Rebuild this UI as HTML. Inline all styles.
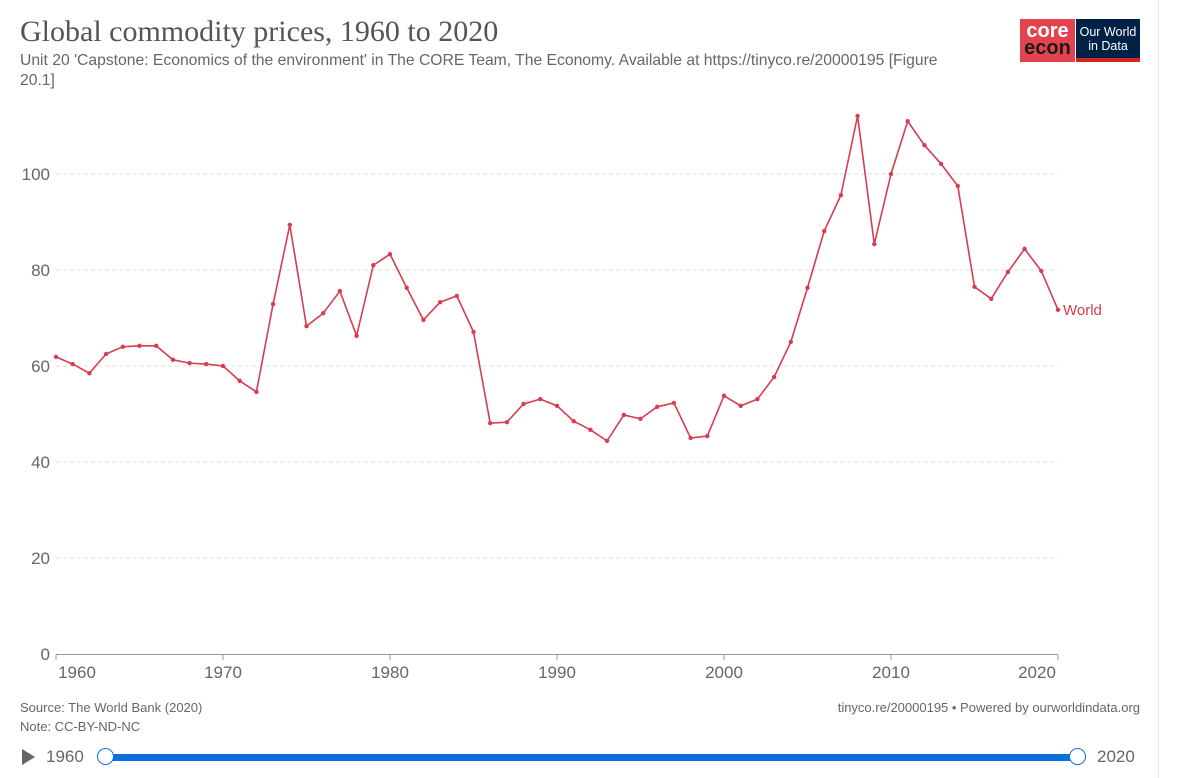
<!DOCTYPE html>
<html><head><meta charset="utf-8"><style>
body{margin:0;background:#fff;width:1183px;height:778px;overflow:hidden;font-family:"Liberation Sans",sans-serif;position:relative}
.title{position:absolute;left:20px;top:15px;font-family:"Liberation Serif",serif;font-size:30px;color:#555}
.sub{position:absolute;left:20px;top:51px;white-space:nowrap;font-size:15.7px;color:#666;line-height:20px}
.logo{position:absolute;top:19px;display:flex}
.foot{position:absolute;font-size:13px;color:#666}
.border{position:absolute;left:1158px;top:0;width:1px;height:778px;background:#e6e6e6}
</style></head><body>
<div class="title">Global commodity prices, 1960 to 2020</div>
<div class="sub">Unit 20 'Capstone: Economics of the environment' in The CORE Team, The Economy. Available at https://tinyco.re/20000195 [Figure<br>20.1]</div>
<div class="logo" style="left:1020px">
 <div style="width:55px;height:43px;background:#e3434f;color:#fff;font-weight:bold;font-size:20px;line-height:17px;text-align:center;padding-top:4px;box-sizing:border-box">core<br><span style="color:#1a1a1a">econ</span></div>
 <div style="width:1px"></div>
 <div style="width:64px;height:43px;background:#002147;color:#fff;font-size:12.5px;line-height:14px;text-align:center;padding-top:6px;box-sizing:border-box;border-bottom:4px solid #ce261e">Our World<br>in Data</div>
</div>
<div class="border"></div>
<svg id="chart" width="1183" height="778" style="position:absolute;left:0;top:0"></svg>
<div class="foot" style="left:20px;top:700px">Source: The World Bank (2020)</div>
<div class="foot" style="left:20px;top:719px">Note: CC-BY-ND-NC</div>
<div class="foot" style="right:43px;top:700px">tinyco.re/20000195 • Powered by ourworldindata.org</div>
<div style="position:absolute;left:22px;top:749px;width:0;height:0;border-left:13px solid #666;border-top:8px solid transparent;border-bottom:8px solid transparent"></div>
<div style="position:absolute;left:46px;top:747px;font-size:17px;color:#666">1960</div>
<div style="position:absolute;left:106px;top:754px;width:972px;height:7px;background:#0b6fde;border-radius:3px"></div>
<div style="position:absolute;left:97px;top:748px;width:17px;height:17px;border-radius:50%;background:#fff;border:1.5px solid #0b6fde;box-sizing:border-box"></div>
<div style="position:absolute;left:1069px;top:748px;width:17px;height:17px;border-radius:50%;background:#fff;border:1.5px solid #0b6fde;box-sizing:border-box"></div>
<div style="position:absolute;left:1097px;top:747px;font-size:17px;color:#666">2020</div>
<script>
const years=[1960,1961,1962,1963,1964,1965,1966,1967,1968,1969,1970,1971,1972,1973,1974,1975,1976,1977,1978,1979,1980,1981,1982,1983,1984,1985,1986,1987,1988,1989,1990,1991,1992,1993,1994,1995,1996,1997,1998,1999,2000,2001,2002,2003,2004,2005,2006,2007,2008,2009,2010,2011,2012,2013,2014,2015,2016,2017,2018,2019,2020];
const worldValues=[61.9,60.4,58.5,62.5,64,64.2,64.2,61.3,60.6,60.4,60,56.9,54.6,72.9,89.4,68.3,71,75.6,66.3,81,83.3,76.3,69.6,73.3,74.6,67.1,48.1,48.3,52.1,53.1,51.7,48.5,46.7,44.4,49.8,49,51.5,52.3,45,45.4,53.8,51.7,53.1,57.7,65,76.3,88.1,95.6,112.1,85.4,100,111,106,102.1,97.5,76.5,74,79.6,84.4,79.8,71.7];
const yTicks=[0,20,40,60,80,100];
const xTicks=[1960,1970,1980,1990,2000,2010,2020];
const svg=document.getElementById('chart'),NS='http://www.w3.org/2000/svg';
const x=v=>56+(v-1960)*(1058-56)/60, y=v=>654-v*4.8;
function mk(t,a,txt){const e=document.createElementNS(NS,t);for(const k in a)e.setAttribute(k,a[k]);if(txt!=null)e.textContent=txt;svg.appendChild(e);return e;}
yTicks.forEach(t=>{
 if(t>0){const g=mk('line',{x1:56,x2:1058,y1:y(t),y2:y(t),stroke:'#ddd','stroke-dasharray':'4,3'});
 
 }
 const l=mk('text',{x:50,y:y(t)+6,'text-anchor':'end','font-size':17,fill:'#666','font-family':'Liberation Sans'},t);
 
 
});
const ax=mk('line',{x1:56,x2:1058,y1:654.5,y2:654.5,stroke:'#999'});


xTicks.forEach(t=>{
 const tk=mk('line',{x1:x(t),x2:x(t),y1:655,y2:660,stroke:'#999'});
 
 
 let cx=x(t);if(t===1960)cx=77;if(t===2020)cx=1037;
 const l=mk('text',{x:cx,y:678,'text-anchor':'middle','font-size':17,fill:'#666','font-family':'Liberation Sans'},t);
 
 
});
const line=mk('polyline',{points:years.map((yr,i)=>x(yr)+','+y(worldValues[i])).join(' '),fill:'none',stroke:'#d73c50','stroke-width':1.6});


years.forEach((yr,i)=>{
 const c=mk('circle',{cx:x(yr),cy:y(worldValues[i]),r:2.2,fill:'#d73c50'});
 
 
});
const last=worldValues[worldValues.length-1];
const lab=mk('text',{x:1063,y:y(last)+5,'font-size':15,fill:'#d73c50','font-family':'Liberation Sans'},'World');


</script>
</body></html>
